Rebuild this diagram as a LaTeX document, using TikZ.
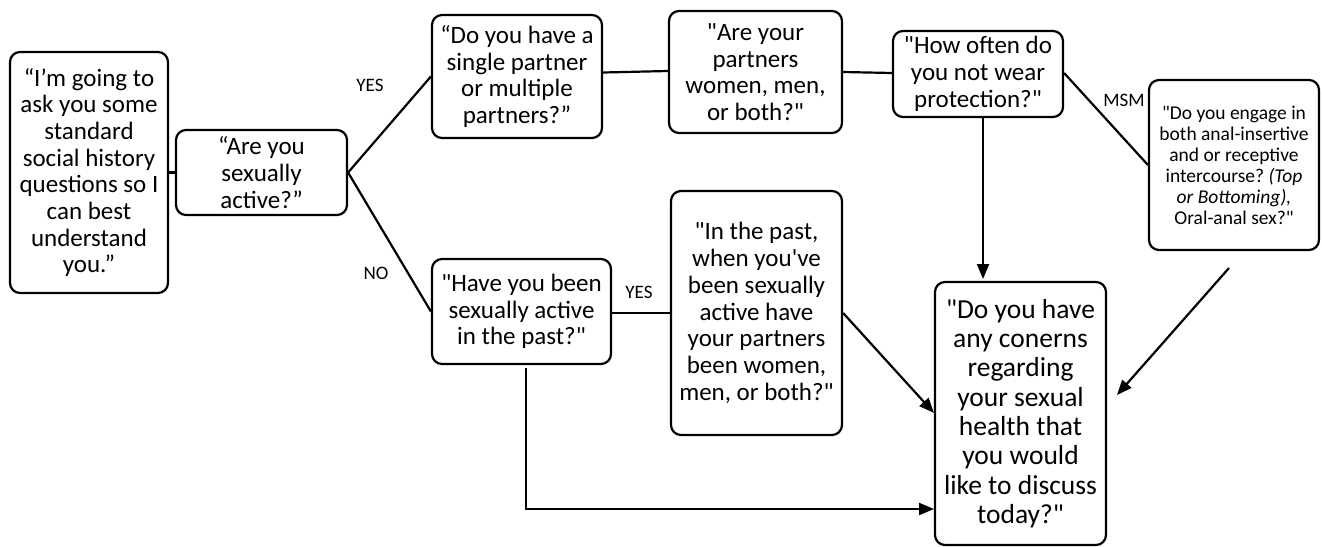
\documentclass[tikz,border=0pt]{standalone}
\usepackage{fontspec}
\setmainfont{Carlito}[Ligatures=TeXOff]
\usetikzlibrary{arrows.meta}
\frenchspacing
\begin{document}
\begin{tikzpicture}[x=1pt,y=-1pt,
  box/.style={draw, line width=2.2pt, rounded corners=10pt, align=center, inner sep=0pt,
    font=\fontsize{25}{26.7}\selectfont},
  conn/.style={line width=2.2pt},
  arr/.style={conn, -{Triangle[length=15pt,width=12pt]}},
  lab/.style={font=\fontsize{19}{22}\selectfont, inner sep=0pt}]
\useasboundingbox (0,0) rectangle (1322,546);

\node[box, minimum width=158pt, minimum height=241pt] (b1) at (89,172.5)
  {“I’m going to\\ask you some\\standard\\social history\\questions so I\\can best\\understand\\you.”};
\node[box, minimum width=171pt, minimum height=85pt] (b2) at (261.5,172.5)
  {“Are you\\sexually\\active?”};
\node[box, minimum width=170pt, minimum height=123pt] (b3) at (517,76.5)
  {“Do you have a\\single partner\\or multiple\\partners?”};
\node[box, minimum width=173pt, minimum height=122pt] (b4) at (755.5,72)
  {"Are your\\partners\\women, men,\\or both?"};
\node[box, minimum width=170pt, minimum height=86pt] (b5) at (978,74)
  {"How often do\\you not wear\\protection?"};
\node[box, minimum width=170pt, minimum height=170pt, font=\fontsize{19.5}{21}\selectfont] (b6) at (1234,165)
  {"Do you engage in\\both anal-insertive\\and or receptive\\intercourse? \textit{(Top}\\\textit{or Bottoming),}\\Oral-anal sex?"};
\node[box, minimum width=171pt, minimum height=263pt, font=\fontsize{27.5}{29.3}\selectfont] (b7) at (1020.5,413.5)
  {"Do you have\\any conerns\\regarding\\your sexual\\health that\\you would\\like to discuss\\today?"};
\node[box, minimum width=179pt, minimum height=105pt] (b8) at (521.5,311.5)
  {"Have you been\\sexually active\\in the past?"};
\node[box, minimum width=171pt, minimum height=244pt] (b9) at (756.5,313)
  {"In the past,\\when you've\\been sexually\\active have\\your partners\\been women,\\men, or both?"};

\node[lab] (lyes1) at (370,85) {YES};
\node[lab] (lno) at (376,273) {NO};
\node[lab] (lyes2) at (639,292) {YES};
\node[lab] (lmsm) at (1124,100) {MSM};

\coordinate (t1) at (983,279);
\coordinate (s1) at (983,117);
\coordinate (t2) at (934,413);
\coordinate (s3) at (1229,268);
\coordinate (t3) at (1117,395);
\coordinate (s4) at (526,368);
\coordinate (t4) at (934,509);

\draw[conn] (b1.east) -- (b2.west);
\draw[conn] (b2.east) -- (b3.west);
\draw[conn] (b2.east) -- (b8.west);
\draw[conn] ([yshift=4pt]b3.east) -- ([yshift=1pt]b4.west);
\draw[conn] (b4.east) -- ([yshift=1pt]b5.west);
\draw[conn] ([yshift=1pt]b5.east) -- (b6.west);
\draw[conn] ([yshift=-1.5pt]b8.east) -- (b9.west);
\draw[arr] (s1) -- (t1);
\draw[arr] (b9.east) -- (t2);
\draw[arr] (s3) -- (t3);
\draw[arr] (s4) |- (t4);
\end{tikzpicture}
\end{document}
